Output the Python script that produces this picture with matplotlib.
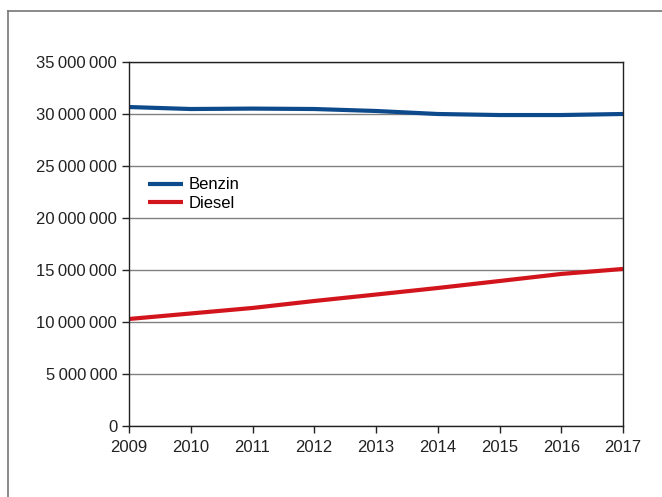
import matplotlib
matplotlib.use("Agg")
import matplotlib.pyplot as plt
from matplotlib.lines import Line2D
from matplotlib.ticker import FuncFormatter
import numpy as np

years = [2009, 2010, 2011, 2012, 2013, 2014, 2015, 2016, 2017]
benzin = [30670000, 30480000, 30520000, 30480000, 30290000, 30000000, 29900000, 29900000, 30000000]
diesel = [10290000, 10820000, 11350000, 12020000, 12640000, 13270000, 13940000, 14620000, 15100000]
series_names = ["Benzin", "Diesel"]
yticks = [0, 5000000, 10000000, 15000000, 20000000, 25000000, 30000000, 35000000]

plt.rcParams['font.family'] = ['Liberation Sans', 'DejaVu Sans']

fig = plt.figure(figsize=(6.62, 4.97), dpi=100)
ax = fig.add_axes([129/662, 1-426/497, (623-129)/662, (426-62)/497])

ax.plot(years, benzin, color='#0d4a8c', lw=3, label=series_names[0], solid_capstyle='butt')
ax.plot(years, diesel, color='#d2151d', lw=3, label=series_names[1], solid_capstyle='butt')

ax.set_xlim(years[0], years[-1])
ax.set_ylim(0, 35000000)
ax.set_xticks(years)
ax.set_yticks(yticks)
ax.yaxis.set_major_formatter(FuncFormatter(lambda v, p: f"{int(v):,}".replace(",", "\u2009") if v else "0"))
ax.grid(axis='y', color='#808080', lw=1)
ax.set_axisbelow(True)
for s in ax.spines.values():
    s.set_color('#222222')
    s.set_linewidth(1)
ax.tick_params(axis='both', direction='out', length=5, width=1, color='#222222', labelsize=12, labelcolor='#222222')
ax.tick_params(axis='x', pad=5)

leg = ax.legend(loc='upper left', bbox_to_anchor=(0.0385, 0.683), frameon=False, fontsize=12,
                handlelength=2.1, handletextpad=0.35, labelspacing=0.22, borderaxespad=0, borderpad=0)

fig.add_artist(Line2D([7.5/662, 1], [1-11/497, 1-11/497], color='#777777', lw=1.2, transform=fig.transFigure))
fig.add_artist(Line2D([7.5/662, 7.5/662], [0, 1-11/497], color='#777777', lw=1.2, transform=fig.transFigure))

fig.savefig("out.png", dpi=100)
